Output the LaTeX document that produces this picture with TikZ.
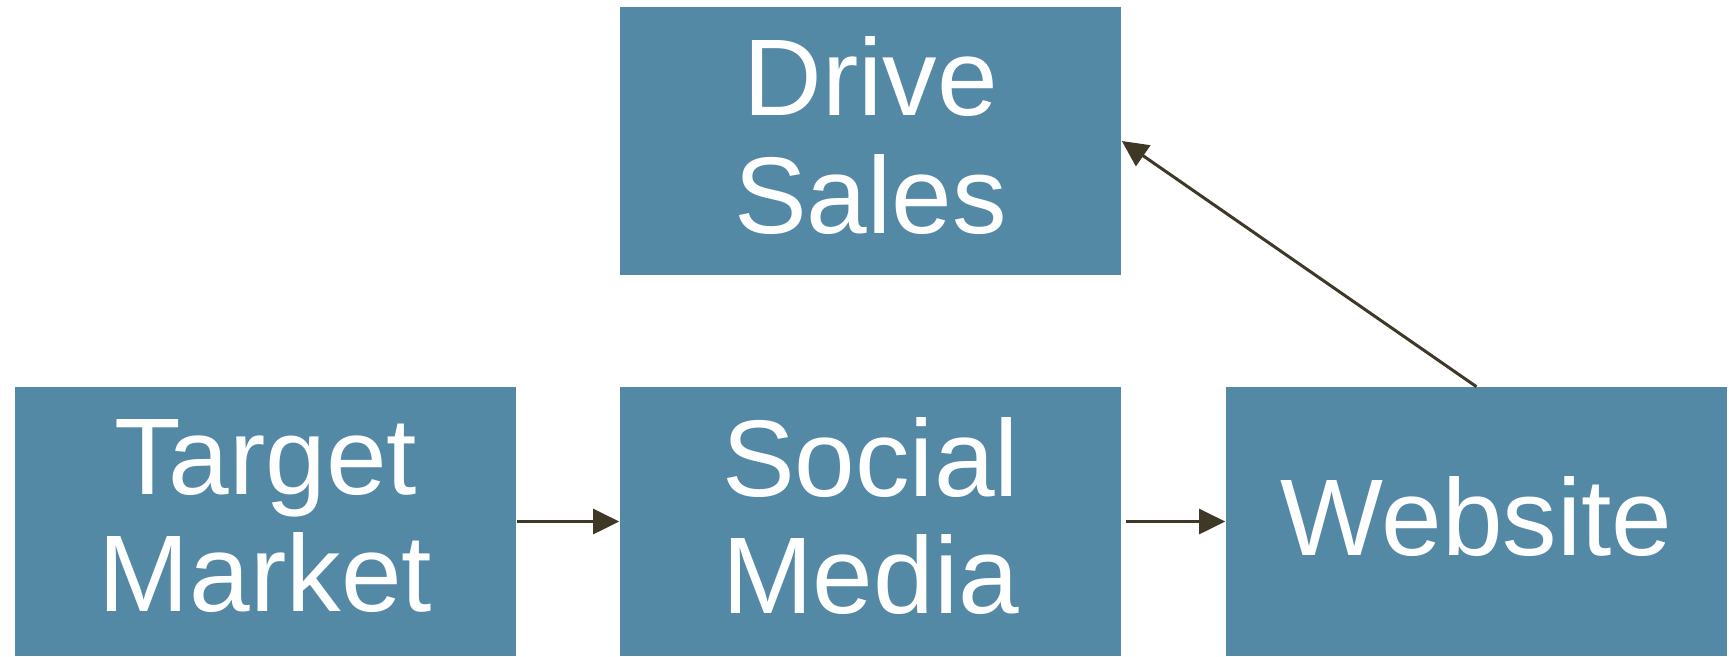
\documentclass[tikz,border=0pt]{standalone}
\usepackage{fontspec}
\setmainfont{Liberation Sans}
\usetikzlibrary{arrows.meta}
\definecolor{boxblue}{RGB}{84,137,166}
\definecolor{arrowbrown}{RGB}{63,56,38}

\begin{document}
\begin{tikzpicture}[x=0.01cm, y=0.01cm,
      bluebox/.style={rectangle, fill=boxblue, text=white, align=center,
        inner sep=0pt, minimum width=5.01cm, minimum height=2.68cm,
        text depth=0.12cm, font=\fontsize{31}{33.5}\selectfont},
      link/.style={draw=arrowbrown, line width=0.85pt,
        -{Triangle[length=0.26cm, width=0.25cm]}}]

    \useasboundingbox (0,0) rectangle (1729,656);

    \node[bluebox] (s1) at (870.5,515) {Drive\\Sales};

    \node[bluebox] (t1) at (265.5,134.5) {Target\\Market};
    \node[bluebox] (t2) at (870.5,134.5) {Social\\Media};
    \node[bluebox] (t3) at (1476.5,134.5) {Website};

    \draw[link] (t1) -- (t2);
    \draw[link] ([xshift=0.04cm]t2.east) -- (t3);
    \draw[link] (t3.north) -- (s1.east);

  \end{tikzpicture}
\end{document}
